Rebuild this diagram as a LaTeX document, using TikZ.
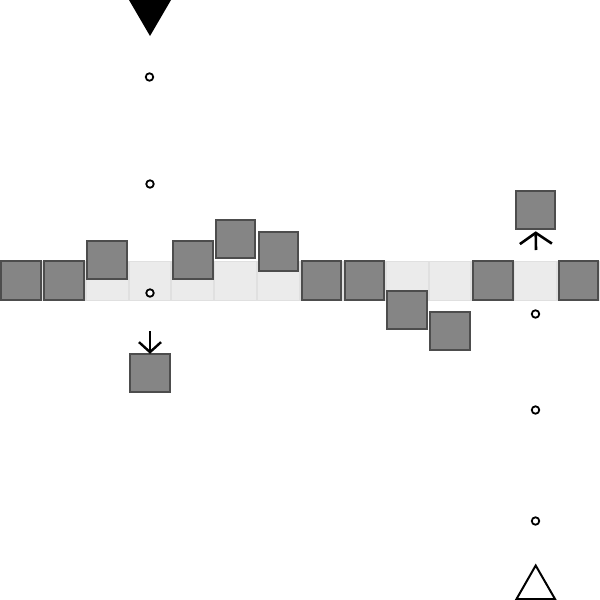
\documentclass[tikz,border=0pt]{standalone}
\usetikzlibrary{arrows.meta}
\definecolor{sqfill}{HTML}{858585}
\definecolor{sqdraw}{HTML}{4D4D4D}
\definecolor{cellfill}{HTML}{EBEBEB}
\definecolor{celldraw}{HTML}{E0E0E0}
\begin{document}
\begin{tikzpicture}[x=1pt,y=-1pt,
  cell/.style={draw=celldraw,fill=cellfill,line width=1pt,minimum width=41.8pt,minimum height=39pt,inner sep=0pt,outer sep=0pt},
  blk/.style={draw=sqdraw,fill=sqfill,line width=2pt,minimum width=39.5pt,minimum height=38.5pt,inner sep=0pt,outer sep=0pt},
  dot/.style={circle,draw=black,fill=white,line width=1.8pt,minimum size=7.5pt,inner sep=0pt},
  arrdown/.style={line width=2.4pt,-{Straight Barb[length=10pt,width=22pt,line width=2.4pt]}},
  arrup/.style={line width=2.6pt,-{Straight Barb[length=11pt,width=32pt,line width=2.6pt]}}]
\useasboundingbox (0,0) rectangle (600,600);
% background cells
\foreach \i in {0,...,13}{
  \node[cell] (c\i) at ({(\i+0.5)*42.857},280.5) {};
}
% squares
\node[blk] (s0) at (21.2,280.5) {};
\node[blk] (s1) at (64.2,280.5) {};
\node[blk] (s2) at (107.1,260) {};
\node[blk] (s4) at (192.8,260) {};
\node[blk] (s5) at (235.7,239) {};
\node[blk] (s6) at (278.6,251.5) {};
\node[blk] (s7) at (321.4,280.5) {};
\node[blk] (s8) at (364.3,280.5) {};
\node[blk] (s9) at (407.1,310) {};
\node[blk] (s10) at (450,331) {};
\node[blk] (s11) at (492.8,280.5) {};
\node[blk] (s13) at (578.6,280.5) {};
\node[blk] (sdown) at (150,373) {};
\node[blk] (sup) at (535.7,210) {};
% dots
\node[dot] (d1) at (149.5,77) {};
\node[dot] (d2) at (150,184) {};
\node[dot] (d3) at (150,293) {};
\node[dot] (d4) at (535.5,314) {};
\node[dot] (d5) at (535.5,410) {};
\node[dot] (d6) at (535.5,521) {};
% arrows
\coordinate (adown) at (150,331);
\draw[arrdown] (adown) -- (sdown.north);
\coordinate (aup) at (536,250);
\draw[arrup] (aup) -- ([yshift=-2pt]sup.south);
% triangles
\fill[black] (129,0) -- (171,0) -- (150,36) -- cycle;
\draw[black,line width=2pt,line join=miter] (516.5,599) -- (555,599) -- (535.7,565.5) -- cycle;
\end{tikzpicture}
\end{document}
